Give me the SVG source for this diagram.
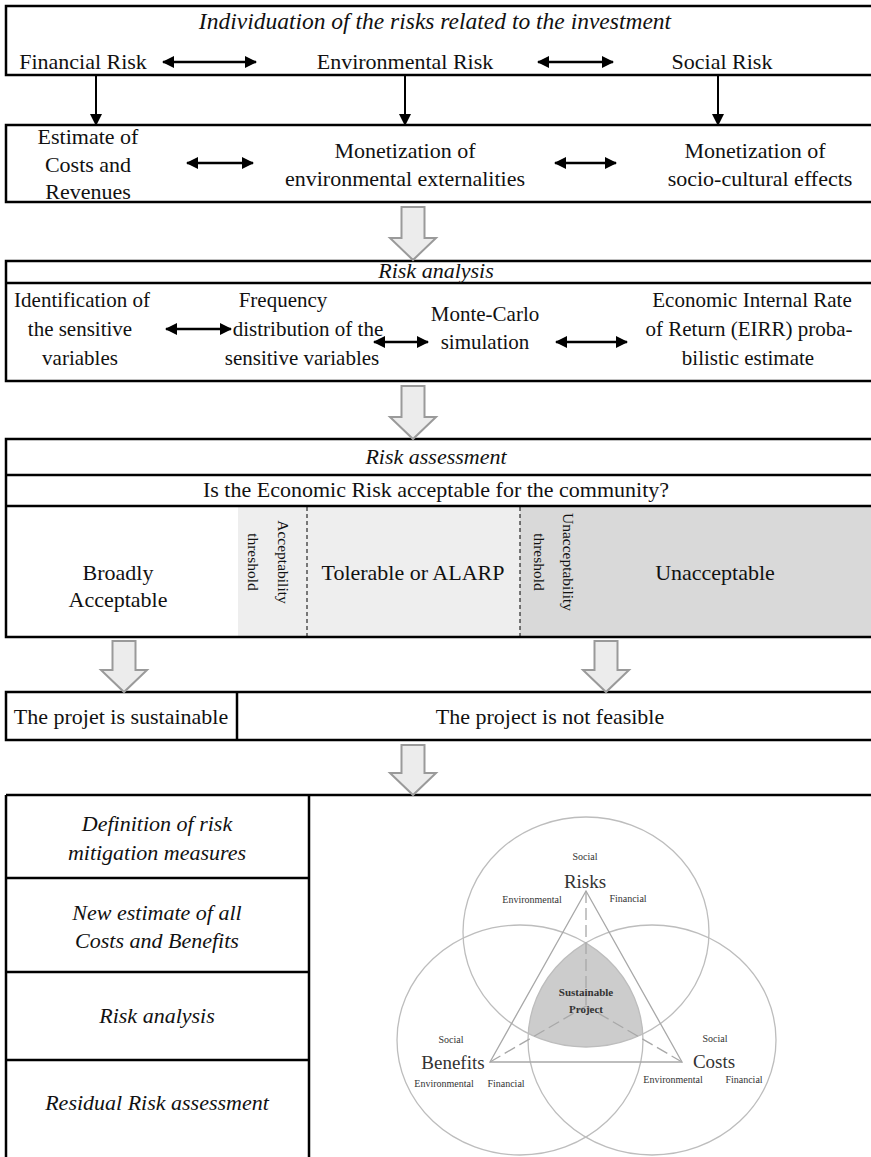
<svg xmlns="http://www.w3.org/2000/svg" width="871" height="1157" viewBox="0 0 871 1157">
<style>
.t{font-family:"Liberation Serif","Times New Roman",serif;font-size:22px;fill:#111;text-anchor:middle}
.s{font-size:21px}
.big{font-size:23.5px}
.i{font-style:italic}
.box{fill:none;stroke:#000;stroke-width:2.5}
.ln{stroke:#000;stroke-width:2.5;fill:none}
.dbl{stroke:#000;stroke-width:2.5;marker-start:url(#ah);marker-end:url(#ah)}
.one{stroke:#000;stroke-width:2;marker-end:url(#ah)}
.blk{fill:#ececec;stroke:#9a9a9a;stroke-width:2}
.dash{stroke:#000;stroke-width:1;stroke-dasharray:4,3}
.rt{font-family:"Liberation Serif","Times New Roman",serif;font-size:15.5px;fill:#111;text-anchor:middle}
.v{font-family:"Liberation Serif","Times New Roman",serif;fill:#333;text-anchor:middle}
.vs{font-size:10px}
.vm{font-size:11px;font-weight:bold}
.vb{font-size:19px}
.circ{fill:none;stroke:#bdbdbd;stroke-width:1.3}
.tri{fill:none;stroke:#a8a8a8;stroke-width:1.3}
</style>
<defs>
<marker id="ah" viewBox="0 0 12 12" refX="11" refY="6" markerWidth="13" markerHeight="12" markerUnits="userSpaceOnUse" orient="auto-start-reverse">
<path d="M0,0 L12,6 L0,12 z" fill="#000"/>
</marker>
<clipPath id="cL"><ellipse cx="520" cy="1040" rx="123" ry="115"/></clipPath>
<clipPath id="cR"><ellipse cx="652" cy="1040" rx="124" ry="115"/></clipPath>
</defs>

<g id="risks-identification">
<rect class="box" x="6" y="6" width="880" height="69"/>
<text class="t i big" x="435" y="29">Individuation of the risks related to the investment</text>
<text class="t" x="83" y="69">Financial Risk</text>
<text class="t" x="405" y="69">Environmental Risk</text>
<text class="t" x="722" y="69">Social Risk</text>
</g>

<g id="monetization">
<rect class="box" x="6" y="125" width="880" height="77"/>
<text class="t" x="88" y="144">Estimate of</text>
<text class="t" x="88" y="172">Costs and</text>
<text class="t" x="88" y="199">Revenues</text>
<text class="t" x="405" y="158">Monetization of</text>
<text class="t" x="405" y="186">environmental externalities</text>
<text class="t" x="755" y="158">Monetization of</text>
<text class="t" x="760" y="186">socio-cultural effects</text>
</g>

<g id="risk-analysis">
<rect class="box" x="6" y="261" width="880" height="120"/>
<line class="ln" x1="6" y1="283" x2="871" y2="283"/>
<text class="t i" x="436" y="278">Risk analysis</text>
<text class="t s" x="82" y="307">Identification of</text>
<text class="t s" x="80" y="336">the sensitive</text>
<text class="t s" x="80" y="365">variables</text>
<text class="t s" x="283" y="307">Frequency</text>
<text class="t s" x="308" y="336">distribution of the</text>
<text class="t s" x="302" y="365">sensitive variables</text>
<text class="t s" x="485" y="321">Monte-Carlo</text>
<text class="t s" x="485" y="349">simulation</text>
<text class="t s" x="752" y="307">Economic Internal Rate</text>
<text class="t s" x="749" y="336">of Return (EIRR) proba-</text>
<text class="t s" x="748" y="365">bilistic estimate</text>
</g>

<g id="risk-assessment">
<rect x="238" y="507" width="282" height="129" fill="#eeeeee"/>
<rect x="520" y="507" width="360" height="129" fill="#d9d9d9"/>
<line class="dash" x1="307" y1="507" x2="307" y2="636"/>
<line class="dash" x1="520" y1="507" x2="520" y2="636"/>
<rect class="box" x="6" y="439" width="880" height="198"/>
<line class="ln" x1="6" y1="475" x2="871" y2="475"/>
<line class="ln" x1="6" y1="506" x2="871" y2="506"/>
<text class="t i" x="436" y="464">Risk assessment</text>
<text class="t" x="436" y="497">Is the Economic Risk acceptable for the community?</text>
<text class="t" x="118" y="580">Broadly</text>
<text class="t" x="118" y="607">Acceptable</text>
<text class="rt" transform="translate(283,562) rotate(90)" y="5">Acceptability</text>
<text class="rt" transform="translate(253,562) rotate(90)" y="5">threshold</text>
<text class="t" x="413" y="580">Tolerable or ALARP</text>
<text class="rt" transform="translate(568,562) rotate(90)" y="5">Unacceptability</text>
<text class="rt" transform="translate(539,562) rotate(90)" y="5">threshold</text>
<text class="t" x="715" y="580">Unacceptable</text>
</g>

<g id="outcome">
<rect class="box" x="6" y="692" width="880" height="48"/>
<line class="ln" x1="237" y1="692" x2="237" y2="740"/>
<text class="t" x="121" y="724">The projet is sustainable</text>
<text class="t" x="550" y="724">The project is not feasible</text>
</g>

<g id="mitigation">
<line class="ln" x1="6" y1="795" x2="871" y2="795"/>
<line class="ln" x1="6" y1="795" x2="6" y2="1160"/>
<line class="ln" x1="309" y1="795" x2="309" y2="1160"/>
<line class="ln" x1="6" y1="878" x2="309" y2="878"/>
<line class="ln" x1="6" y1="972" x2="309" y2="972"/>
<line class="ln" x1="6" y1="1060" x2="309" y2="1060"/>
<text class="t i" x="157" y="831">Definition of risk</text>
<text class="t i" x="157" y="860">mitigation measures</text>
<text class="t i" x="157" y="920">New estimate of all</text>
<text class="t i" x="157" y="948">Costs and Benefits</text>
<text class="t i" x="157" y="1023">Risk analysis</text>
<text class="t i" x="157" y="1110">Residual Risk assessment</text>
</g>

<g id="venn">
<g clip-path="url(#cL)"><g clip-path="url(#cR)"><ellipse cx="586" cy="932" rx="123" ry="115" fill="#cccccc"/></g></g>
<ellipse class="circ" cx="586" cy="932" rx="123" ry="115"/>
<ellipse class="circ" cx="520" cy="1040" rx="123" ry="115"/>
<ellipse class="circ" cx="652" cy="1040" rx="124" ry="115"/>
<polygon class="tri" points="586,891 490,1062 682,1062"/>
<line class="tri" x1="586" y1="891" x2="586" y2="1006" stroke-dasharray="12,5"/>
<line class="tri" x1="490" y1="1062" x2="586" y2="1006" stroke-dasharray="12,5"/>
<line class="tri" x1="682" y1="1062" x2="586" y2="1006" stroke-dasharray="12,5"/>
<text class="v vs" x="585" y="860">Social</text>
<text class="v vb" x="585" y="888">Risks</text>
<text class="v vs" x="532" y="903">Environmental</text>
<text class="v vs" x="628" y="902">Financial</text>
<text class="v vm" x="586" y="996">Sustainable</text>
<text class="v vm" x="586" y="1013">Project</text>
<text class="v vs" x="451" y="1043">Social</text>
<text class="v vb" x="453" y="1069">Benefits</text>
<text class="v vs" x="444" y="1087">Environmental</text>
<text class="v vs" x="506" y="1087">Financial</text>
<text class="v vs" x="715" y="1042">Social</text>
<text class="v vb" x="714" y="1068">Costs</text>
<text class="v vs" x="673" y="1083">Environmental</text>
<text class="v vs" x="744" y="1083">Financial</text>
</g>

<g id="connectors">
<line class="dbl" x1="163" y1="62" x2="256" y2="62"/>
<line class="dbl" x1="538" y1="62" x2="613" y2="62"/>
<line class="one" x1="96" y1="75" x2="96" y2="125"/>
<line class="one" x1="405" y1="75" x2="405" y2="125"/>
<line class="one" x1="718" y1="75" x2="718" y2="125"/>
<line class="dbl" x1="187" y1="163" x2="253" y2="163"/>
<line class="dbl" x1="555" y1="163" x2="616" y2="163"/>
<line class="dbl" x1="166" y1="329" x2="231" y2="329"/>
<line class="dbl" x1="374" y1="342" x2="428" y2="342"/>
<line class="dbl" x1="556" y1="342" x2="627" y2="342"/>
<path class="blk" d="M401.5,207 H424.5 V238 H436 L413,260 L390,238 H401.5 Z"/>
<path class="blk" d="M401.5,386 H424.5 V417 H436 L413,439 L390,417 H401.5 Z"/>
<path class="blk" d="M112.5,641 H135.5 V670 H147 L124,692 L101,670 H112.5 Z"/>
<path class="blk" d="M594.5,641 H617.5 V670 H629 L606,692 L583,670 H594.5 Z"/>
<path class="blk" d="M401.5,745 H424.5 V773 H436 L413,795 L390,773 H401.5 Z"/>
</g>
</svg>
